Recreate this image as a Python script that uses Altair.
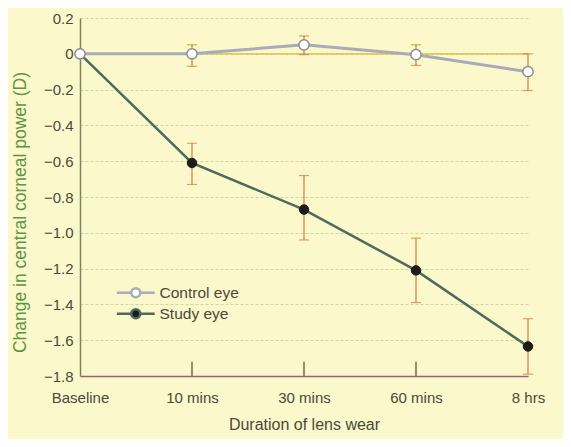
import altair as alt
import pandas as pd

categories = ["Baseline", "10 mins", "30 mins", "60 mins", "8 hrs"]
series_names = ["Control eye", "Study eye"]

control_mean = [0.0, 0.0, 0.05, -0.005, -0.10]
control_low = [0.0, -0.07, -0.005, -0.065, -0.205]
control_high = [0.0, 0.05, 0.10, 0.05, 0.0]

study_mean = [0.0, -0.61, -0.87, -1.21, -1.635]
study_low = [0.0, -0.73, -1.04, -1.39, -1.79]
study_high = [0.0, -0.50, -0.68, -1.03, -1.48]

y_ticks = [0.2, 0.0, -0.2, -0.4, -0.6, -0.8, -1.0, -1.2, -1.4, -1.6, -1.8]
inner_tick_cats = ["10 mins", "30 mins", "60 mins"]

rows = []
for name, m, lo, hi in [
    ("Control eye", control_mean, control_low, control_high),
    ("Study eye", study_mean, study_low, study_high),
]:
    for i, c in enumerate(categories):
        rows.append({"series": name, "cat": c, "order": i,
                     "value": m[i], "low": lo[i], "high": hi[i]})
df = pd.DataFrame(rows)
err_df = df[df["low"] != df["high"]]
tick_df = pd.DataFrame({"cat": inner_tick_cats, "y0": [-1.8] * 3, "y1": [-1.72] * 3})
zero_df = pd.DataFrame({"y": [0.0]})

FONT = "Liberation Sans"

x_enc = alt.X("cat:N", sort=categories,
              scale=alt.Scale(type="point", domain=categories, padding=0),
              axis=alt.Axis(title="Duration of lens wear", ticks=False,
                            labelAngle=0, labelPadding=14, titlePadding=11,
                            titleFontSize=16,
                            domainColor="#9a6272", domainWidth=1.5,
                            grid=False))
y_scale = alt.Scale(domain=[-1.8, 0.2], nice=False, zero=False)
y_axis = alt.Axis(title="Change in central corneal power (D)", values=y_ticks,
                  ticks=False, labelPadding=7, titlePadding=14, labelOverlap=False,
                  labelExpr="datum.value > -0.001 && datum.value < 0.001 ? '0' : (datum.value < 0 ? '\u2212' : '') + format(abs(datum.value), '.1f')",
                  grid=True, gridDash=[3, 2], gridColor="#cfd6a6", gridWidth=1,
                  domainColor="#7e8262", domainWidth=1.5,
                  titleColor="#5e9445", titleFontSize=17.5, titleY=194)


def y_enc(field):
    return alt.Y(field, scale=y_scale, axis=y_axis)


base = alt.Chart(df)

zero_rule = alt.Chart(zero_df).mark_rule(color="#e4b43c", strokeWidth=1.2).encode(
    y=y_enc("y:Q")
)

inner_ticks = alt.Chart(tick_df).mark_rule(color="#555548", strokeWidth=1.3).encode(
    x=x_enc, y=y_enc("y0:Q"), y2="y1:Q"
)

err_rule = alt.Chart(err_df).mark_rule(color="#d8773e", strokeWidth=1.2).encode(
    x=x_enc, y=y_enc("low:Q"), y2="high:Q"
)
cap_lo = alt.Chart(err_df).mark_tick(color="#d8773e", size=10, thickness=1.2, orient="horizontal").encode(
    x=x_enc, y=y_enc("low:Q")
)
cap_hi = alt.Chart(err_df).mark_tick(color="#d8773e", size=10, thickness=1.2, orient="horizontal").encode(
    x=x_enc, y=y_enc("high:Q")
)

legend = alt.Legend(
    title=None, orient="none", legendX=34, legendY=267, padding=0,
    symbolType="M-4.2,0H-1M1,0H4.2M-1,0A1,1 0 1,0 1,0A1,1 0 1,0 -1,0Z",
    symbolSize=81, symbolStrokeWidth=2.5, symbolOffset=14,
    labelOffset=16, labelFontSize=15.5, labelFont=FONT, labelColor="#4a4a3a",
    rowPadding=1,
)

lines = base.mark_line().encode(
    x=x_enc,
    y=y_enc("value:Q"),
    stroke=alt.Stroke("series:N", scale=alt.Scale(domain=series_names, range=["#a8acb8", "#4c6b5c"]), legend=legend),
    strokeWidth=alt.condition(alt.datum.series == "Control eye", alt.value(3), alt.value(2.5)),
    order="order:Q",
)

fill_scale = alt.Scale(domain=series_names, range=["#ffffff", "#1c1c1c"])

study_pts = alt.Chart(df[df["series"] == "Study eye"]).mark_point(filled=True, size=90, opacity=1).encode(
    x=x_enc, y=y_enc("value:Q"),
    fill=alt.Fill("series:N", scale=fill_scale, legend=legend),
    stroke=alt.value("#1c1c1c"), strokeWidth=alt.value(1),
)
control_pts = alt.Chart(df[df["series"] == "Control eye"]).mark_point(filled=True, size=105, opacity=1).encode(
    x=x_enc, y=y_enc("value:Q"),
    fill=alt.Fill("series:N", scale=fill_scale, legend=legend),
    stroke=alt.value("#8a8e9a"), strokeWidth=alt.value(1.5),
)

chart = alt.layer(
    zero_rule, inner_ticks, err_rule, cap_lo, cap_hi, lines, study_pts, control_pts
).properties(
    width=448, height=358,
    padding={"left": 72, "top": 10, "right": 35, "bottom": 63},
    autosize=alt.AutoSizeParams(type="none"),
    background="#fbf8cb",
).configure_view(
    stroke=None
).configure_axis(
    labelFont=FONT, titleFont=FONT, labelFontSize=15, titleFontSize=15,
    labelColor="#4a4a3a", titleColor="#4a4a3a", titleFontWeight="normal",
)

chart.save("out.html", embed_options={"renderer": "svg", "actions": False})
